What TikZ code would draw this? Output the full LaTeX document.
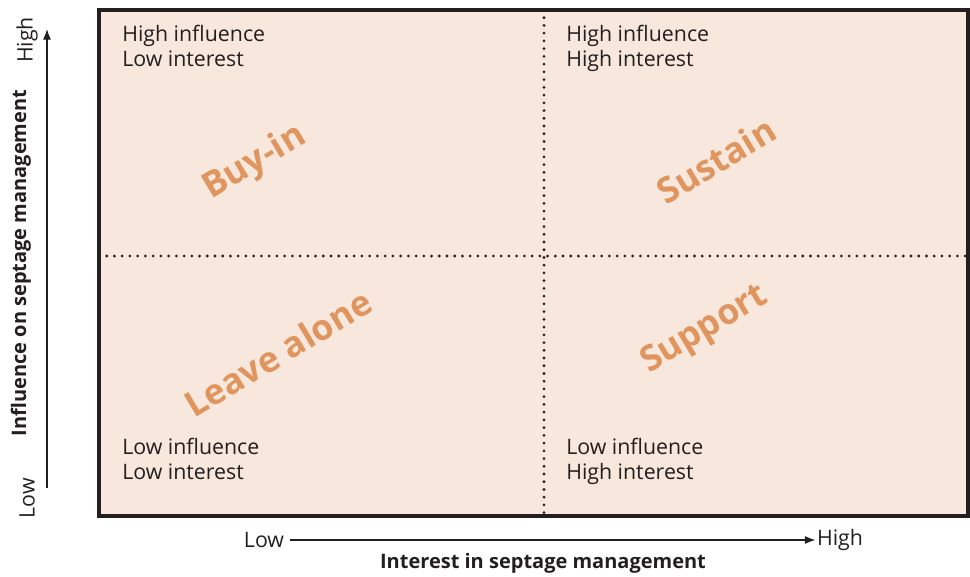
\documentclass[tikz,border=0pt]{standalone}
\usepackage{fontspec}
\setmainfont{Open Sans}
\usetikzlibrary{arrows.meta}
\definecolor{quadfill}{HTML}{F8E7DC}
\definecolor{stratcol}{HTML}{E0955F}
\definecolor{inkgray}{HTML}{231F20}

\begin{document}
\begin{tikzpicture}[x=0.75pt, y=-0.75pt, >={Latex[length=8pt,width=6pt]}]

        \def\fl{99}     % left edge of the grid
        \def\fr{968}    % right edge of the grid
        \def\ft{10}     % top edge of the grid
        \def\fb{516}    % bottom edge of the grid
        \def\mx{544}    % vertical divider
        \def\my{256}    % horizontal divider
        \tikzstyle{quadtext}=[anchor=base west, align=left, inner sep=0pt, text=inkgray, font={\fontsize{16}{18.5}\selectfont}]
        \tikzstyle{strategy}=[rotate=31, text=stratcol, font={\fontsize{26.5}{26.5}\selectfont\bfseries}]
        \tikzstyle{divider}=[inkgray, line width=2.3pt, dash pattern=on 0pt off 5.8pt, line cap=round]
        \tikzstyle{ticklabel}=[text=inkgray, font={\fontsize{16}{18}\selectfont}]
        \tikzstyle{axislabel}=[text=inkgray, font={\fontsize{15}{17}\selectfont\bfseries}]

        \useasboundingbox (0,0) rectangle (970,576);

        % Draw the grid with its dividers
            \fill[quadfill] (\fl,\ft) rectangle (\fr,\fb);
            \coordinate (mid-t) at (\mx,\ft);
            \coordinate (mid-b) at (\mx,\fb);
            \coordinate (mid-l) at (\fl,\my);
            \coordinate (mid-r) at (\fr,\my);
            \draw[divider] (mid-t) -- (mid-b);
            \draw[divider] (mid-l) -- (mid-r);
            \draw[inkgray, line width=2.4pt] (\fl,\ft) rectangle (\fr,\fb);

        % Quadrant descriptions (base = last line)
            \foreach \qx/\qy/\qn/\qa/\qb in {122/66/hl/High influence/Low interest,
                                             566/66/hh/High influence/High interest,
                                             122/479/ll/Low influence/Low interest,
                                             566/479/lh/Low influence/High interest}{
                \node[quadtext] (Q-\qn) at (\qx,\qy) {\qa\\\qb};
            }

        % Strategy labels
            \node[strategy] (buyin) at (255,163) {Buy-in};
            \node[strategy] (sustain) at (716,160) {Sustain};
            \node[strategy] (leave) at (278,353) {Leave alone};
            \node[strategy] (support) at (705,330) {Support};

        % Vertical axis
            \coordinate (y-lo) at (47,488);
            \coordinate (y-hi) at (47,29);
            \draw[->, inkgray, line width=0.8pt] (y-lo) -- (y-hi);
            \node[ticklabel, rotate=90] (yl) at (27,498) {Low};
            \node[ticklabel, rotate=90] (yh) at (27,40) {High};
            \node[axislabel, rotate=90] (ylab) at (21,263) {Influence on septage management};

        % Horizontal axis
            \node[ticklabel, inner sep=4pt] (xl) at (264,540) {Low};
            \node[ticklabel, inner sep=1pt] (xh) at (840,540) {High};
            \draw[->, inkgray, line width=0.8pt] (xl.east) -- (xh.west);
            \node[axislabel] (xlab) at (543,563) {Interest in septage management};

\end{tikzpicture}
\end{document}
